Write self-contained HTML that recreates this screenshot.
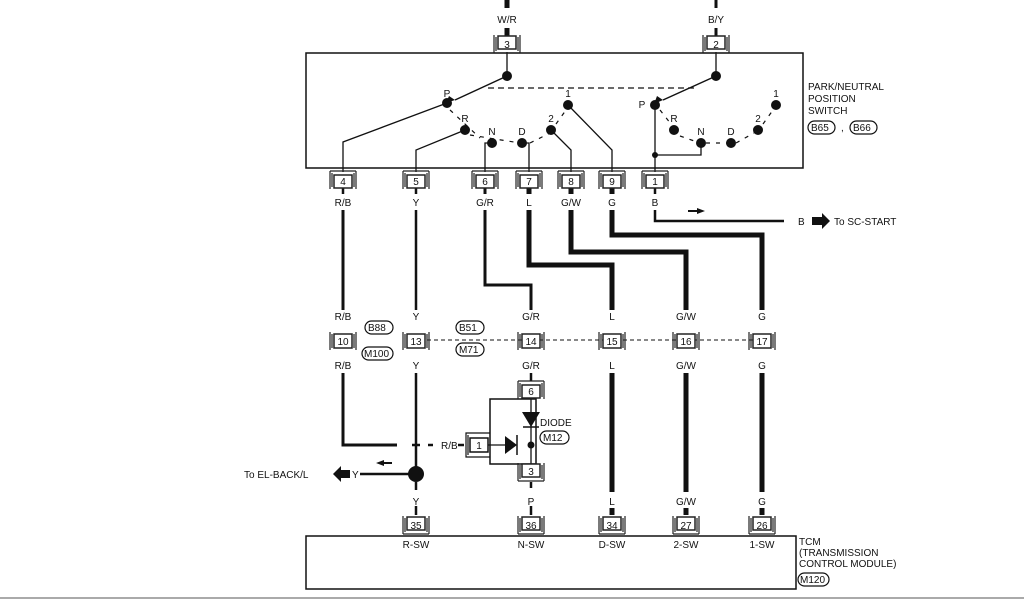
<!DOCTYPE html>
<html><head><meta charset="utf-8"><style>
html,body{margin:0;padding:0;background:#fff;}
svg{display:block;}
text{font-family:"Liberation Sans",sans-serif;font-size:10px;fill:#111;}
</style></head><body>
<svg width="1024" height="600" viewBox="0 0 1024 600" xmlns="http://www.w3.org/2000/svg">
<defs>
<g id="cn"><path d="M-13,-9 V9 M13,-9 V9 M-11,-7 V7 M11,-7 V7" stroke="#222" stroke-width="1.2" fill="none"/><rect x="-9" y="-7" width="18" height="14" fill="#fff" stroke="#222" stroke-width="1.5"/></g>
<g id="cnt"><path d="M-13,-9 H13 M-13,-9 V9 M13,-9 V9 M-11,-7 V7 M11,-7 V7" stroke="#222" stroke-width="1.2" fill="none"/><rect x="-9" y="-5" width="18" height="13" fill="#fff" stroke="#222" stroke-width="1.5"/></g>
<g id="cnb"><path d="M-13,9 H13 M-13,-9 V9 M13,-9 V9 M-11,-7 V7 M11,-7 V7" stroke="#222" stroke-width="1.2" fill="none"/><rect x="-9" y="-8" width="18" height="13" fill="#fff" stroke="#222" stroke-width="1.5"/></g>
</defs>
<g stroke="#111" fill="none">
<line x1="507" y1="0" x2="507" y2="8" stroke-width="5"/>
<line x1="507" y1="28" x2="507" y2="36" stroke-width="5"/>
<line x1="716" y1="0" x2="716" y2="8" stroke-width="3"/>
<line x1="716" y1="28" x2="716" y2="36" stroke-width="3"/>
<rect x="306" y="53" width="497" height="115" stroke-width="1.5"/>
<line x1="507" y1="52" x2="507" y2="76" stroke-width="1.3"/>
<line x1="716" y1="52" x2="716" y2="76" stroke-width="1.3"/>
<line x1="507" y1="76" x2="455" y2="100" stroke-width="1.5"/>
<line x1="716" y1="76" x2="663" y2="100" stroke-width="1.5"/>
<line x1="488" y1="88" x2="697" y2="88" stroke-width="1.3" stroke-dasharray="6,4"/>
<polyline points="447,103 343,142 343,172" stroke-width="1.3"/>
<polyline points="465,130 416,150 416,172" stroke-width="1.3"/>
<polyline points="492,143 485,143 485,172" stroke-width="1.3"/>
<polyline points="522,143 529,143 529,172" stroke-width="1.3"/>
<polyline points="551,130 571,150 571,172" stroke-width="1.3"/>
<polyline points="568,105 612,150 612,172" stroke-width="1.3"/>
<polyline points="655,103 655,172" stroke-width="1.3"/>
<polyline points="655,155 701,155 701,143" stroke-width="1.3"/>
<path d="M450,110 l30,28 M470,135 l50,8 M530,143 l20,-10 M556,124 l10,-14 M660,110 l14,18 M680,136 l20,7 M706,143 l22,0 M736,143 l18,-10 M763,124 l10,-14" stroke-width="1.2" stroke-dasharray="4,6"/>
<line x1="343" y1="188" x2="343" y2="194" stroke-width="2.5"/>
<line x1="343" y1="210" x2="343" y2="310" stroke-width="3"/>
<line x1="416" y1="188" x2="416" y2="194" stroke-width="2.5"/>
<line x1="416" y1="210" x2="416" y2="310" stroke-width="2.5"/>
<polyline points="485,210 485,285 531,285 531,310" stroke-width="3"/>
<line x1="485" y1="188" x2="485" y2="194" stroke-width="3"/>
<polyline points="529,210 529,265 612,265 612,310" stroke-width="5"/>
<line x1="529" y1="188" x2="529" y2="194" stroke-width="5"/>
<polyline points="571,210 571,252 686,252 686,310" stroke-width="5"/>
<line x1="571" y1="188" x2="571" y2="194" stroke-width="5"/>
<polyline points="612,210 612,235 762,235 762,310" stroke-width="5"/>
<line x1="612" y1="188" x2="612" y2="194" stroke-width="5"/>
<polyline points="655,210 655,221 784,221" stroke-width="2.5"/>
<line x1="655" y1="188" x2="655" y2="194" stroke-width="2.5"/>
<line x1="420" y1="340" x2="760" y2="340" stroke-width="1" stroke-dasharray="4,3"/>
<polyline points="343,373 343,445 397,445" stroke-width="3"/>
<line x1="416" y1="373" x2="416" y2="474" stroke-width="2.5"/>
<line x1="416" y1="482" x2="416" y2="490" stroke-width="2.5"/>
<line x1="416" y1="506" x2="416" y2="515" stroke-width="2.5"/>
<line x1="412" y1="445" x2="420" y2="445" stroke-width="2.5"/>
<line x1="428" y1="445" x2="433" y2="445" stroke-width="2.5"/>
<line x1="458" y1="445" x2="464" y2="445" stroke-width="2.5"/>
<line x1="360" y1="474" x2="412" y2="474" stroke-width="2.5"/>
<line x1="531" y1="373" x2="531" y2="381" stroke-width="2.5"/>
<line x1="531" y1="482" x2="531" y2="488" stroke-width="2.5"/>
<line x1="531" y1="506" x2="531" y2="515" stroke-width="2.5"/>
<line x1="612" y1="373" x2="612" y2="492" stroke-width="5"/>
<line x1="686" y1="373" x2="686" y2="492" stroke-width="5"/>
<line x1="762" y1="373" x2="762" y2="492" stroke-width="5"/>
<line x1="612" y1="508" x2="612" y2="515" stroke-width="5"/>
<line x1="686" y1="508" x2="686" y2="515" stroke-width="5"/>
<line x1="762" y1="508" x2="762" y2="515" stroke-width="5"/>
<rect x="490" y="399" width="46" height="65" stroke-width="1.5"/>
<line x1="488" y1="445" x2="516" y2="445" stroke-width="1.3"/>
<line x1="531" y1="399" x2="531" y2="464" stroke-width="1.3"/>
<line x1="517" y1="435" x2="517" y2="455" stroke-width="1.5"/>
<line x1="523" y1="427" x2="539" y2="427" stroke-width="1.5"/>
<path d="M490,433 H466 V457 H490 M468,435 V455" stroke-width="1.2"/>
<rect x="470" y="438" width="18" height="14" fill="#fff" stroke-width="1.5"/>
<rect x="306" y="536" width="490" height="53" stroke-width="1.5"/>
<line x1="0" y1="598" x2="1024" y2="598" stroke="#aaa" stroke-width="2"/>
</g>
<polygon points="455,100 446,103 449,96" fill="#111"/>
<polygon points="663,100 654,104 657,96" fill="#111"/>
<polygon points="505,436 505,454 517,445" fill="#111"/>
<polygon points="522,412 540,412 531,427" fill="#111"/>
<circle cx="531" cy="445" r="3.5" fill="#111"/>
<polygon points="333,474 341,466 341,470 350,470 350,478 341,478 341,482" fill="#111"/>
<polygon points="376,463 384,460 384,462 392,462 392,464 384,464 384,466" fill="#111"/>
<polygon points="705,211 697,208 697,210 688,210 688,212 697,212 697,214" fill="#111"/>
<polygon points="830,221 822,213 822,217 812,217 812,225 822,225 822,229" fill="#111"/>
<g fill="#111">
<circle cx="507" cy="76" r="5"/><circle cx="716" cy="76" r="5"/>
<circle cx="447" cy="103" r="5"/><circle cx="465" cy="130" r="5"/><circle cx="492" cy="143" r="5"/><circle cx="522" cy="143" r="5"/><circle cx="551" cy="130" r="5"/><circle cx="568" cy="105" r="5"/>
<circle cx="655" cy="105" r="5"/><circle cx="674" cy="130" r="5"/><circle cx="701" cy="143" r="5"/><circle cx="731" cy="143" r="5"/><circle cx="758" cy="130" r="5"/><circle cx="776" cy="105" r="5"/>
<circle cx="655" cy="155" r="3"/>
<circle cx="416" cy="474" r="8"/>
</g>
<use href="#cnb" x="507" y="44"/><use href="#cnb" x="716" y="44"/>
<use href="#cnt" x="343" y="180"/><use href="#cnt" x="416" y="180"/><use href="#cnt" x="485" y="180"/><use href="#cnt" x="529" y="180"/><use href="#cnt" x="571" y="180"/><use href="#cnt" x="612" y="180"/><use href="#cnt" x="655" y="180"/>
<use href="#cn" x="343" y="341"/><use href="#cn" x="416" y="341"/><use href="#cn" x="531" y="341"/><use href="#cn" x="612" y="341"/><use href="#cn" x="686" y="341"/><use href="#cn" x="762" y="341"/>
<use href="#cnt" x="531" y="390"/><use href="#cnb" x="531" y="472"/>
<use href="#cnb" x="416" y="525"/><use href="#cnb" x="531" y="525"/><use href="#cnb" x="612" y="525"/><use href="#cnb" x="686" y="525"/><use href="#cnb" x="762" y="525"/>
<g text-anchor="middle">
<text x="507" y="48">3</text><text x="716" y="48">2</text>
<text x="343" y="185">4</text><text x="416" y="185">5</text><text x="485" y="185">6</text><text x="529" y="185">7</text><text x="571" y="185">8</text><text x="612" y="185">9</text><text x="655" y="185">1</text>
<text x="343" y="345">10</text><text x="416" y="345">13</text><text x="531" y="345">14</text><text x="612" y="345">15</text><text x="686" y="345">16</text><text x="762" y="345">17</text>
<text x="531" y="395">6</text><text x="531" y="475">3</text><text x="479" y="449">1</text>
<text x="416" y="529">35</text><text x="531" y="529">36</text><text x="612" y="529">34</text><text x="686" y="529">27</text><text x="762" y="529">26</text>
<text x="507" y="23">W/R</text><text x="716" y="23">B/Y</text>
<text x="343" y="206">R/B</text><text x="416" y="206">Y</text><text x="485" y="206">G/R</text><text x="529" y="206">L</text><text x="571" y="206">G/W</text><text x="612" y="206">G</text><text x="655" y="206">B</text>
<text x="343" y="320">R/B</text><text x="416" y="320">Y</text><text x="531" y="320">G/R</text><text x="612" y="320">L</text><text x="686" y="320">G/W</text><text x="762" y="320">G</text>
<text x="343" y="369">R/B</text><text x="416" y="369">Y</text><text x="531" y="369">G/R</text><text x="612" y="369">L</text><text x="686" y="369">G/W</text><text x="762" y="369">G</text>
<text x="416" y="505">Y</text><text x="531" y="505">P</text><text x="612" y="505">L</text><text x="686" y="505">G/W</text><text x="762" y="505">G</text>
<text x="416" y="548">R-SW</text><text x="531" y="548">N-SW</text><text x="612" y="548">D-SW</text><text x="686" y="548">2-SW</text><text x="762" y="548">1-SW</text>
<text x="447" y="97">P</text><text x="465" y="122">R</text><text x="492" y="135">N</text><text x="522" y="135">D</text><text x="551" y="122">2</text><text x="568" y="97">1</text>
<text x="642" y="108">P</text><text x="674" y="122">R</text><text x="701" y="135">N</text><text x="731" y="135">D</text><text x="758" y="122">2</text><text x="776" y="97">1</text>
</g>
<text x="441" y="449">R/B</text>
<text x="352" y="478">Y</text>
<text x="244" y="478">To EL-BACK/L</text>
<text x="798" y="225">B</text>
<text x="834" y="225">To SC-START</text>
<text x="540" y="426">DIODE</text>
<text x="808" y="90">PARK/NEUTRAL</text><text x="808" y="102">POSITION</text><text x="808" y="114">SWITCH</text>
<text x="799" y="545">TCM</text><text x="799" y="556">(TRANSMISSION</text><text x="799" y="567">CONTROL MODULE)</text>
<g fill="none" stroke="#111" stroke-width="1.2">
<rect x="808" y="121" width="27" height="13" rx="6.5"/><rect x="850" y="121" width="27" height="13" rx="6.5"/>
<rect x="365" y="321" width="28" height="13" rx="6.5"/><rect x="362" y="347" width="31" height="13" rx="6.5"/>
<rect x="456" y="321" width="28" height="13" rx="6.5"/><rect x="456" y="343" width="28" height="13" rx="6.5"/>
<rect x="540" y="431" width="29" height="13" rx="6.5"/><rect x="798" y="573" width="31" height="13" rx="6.5"/>
</g>
<g font-size="9">
<text x="811" y="131">B65</text><text x="853" y="131">B66</text><text x="841" y="131">,</text>
<text x="368" y="331">B88</text><text x="364" y="357">M100</text>
<text x="459" y="331">B51</text><text x="459" y="353">M71</text>
<text x="543" y="441">M12</text><text x="800" y="583">M120</text>
</g>
</svg>
</body></html>
